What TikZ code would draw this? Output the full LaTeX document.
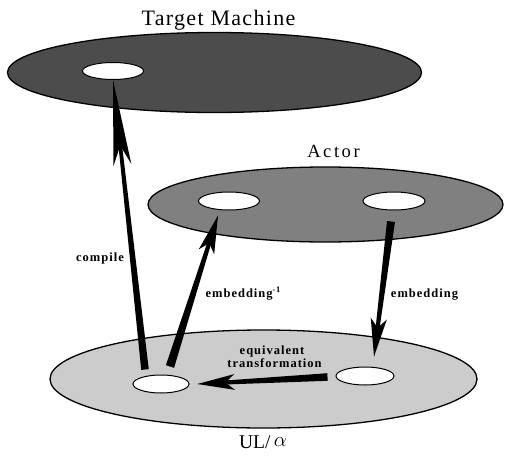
\documentclass[tikz,border=0pt]{standalone}
\usepackage{fontspec}
\setmainfont{Liberation Serif}
\newfontfamily\ttlA[LetterSpace=6]{Liberation Serif}
\newfontfamily\ttlB[LetterSpace=14]{Liberation Serif}
\newfontfamily\labf[LetterSpace=8]{Liberation Serif}
\usetikzlibrary{calc,shapes.geometric}
% tail, tip, tail half width, barb distance, barb angle, notch distance, head-end half width
\newcommand\wedgearrow[7]{%
  \path ($(#2)!#6!(#1)$) coordinate (wa-n);
  \fill ($(#1)!#3!90:(#2)$) -- ($(wa-n)!#7!90:(#2)$) -- (#2) -- ($(wa-n)!#7!-90:(#2)$) -- ($(#1)!#3!-90:(#2)$) -- cycle;
  \fill (#2) -- ($(#2)!#4!#5:(#1)$) -- (wa-n) -- ($(#2)!#4!-#5:(#1)$) -- cycle;
}
\begin{document}
\begin{tikzpicture}[x=1pt,y=-1pt,
  plane/.style={ellipse, draw, line width=1.3pt, inner sep=0pt},
  hole/.style={ellipse, draw, fill=white, line width=1pt, inner sep=0pt},
  title/.style={inner sep=0pt, anchor=base},
  lbl/.style={inner sep=0pt, anchor=base, font=\labf\bfseries\fontsize{12.5}{14}\selectfont}]
\useasboundingbox (0,0) rectangle (512,458);
\fill[white] (0,0) rectangle (512,458);
% planes
\node[plane, fill=black!70, minimum width=414pt, minimum height=80pt] (tm) at (214.5,72.5) {};
\node[plane, fill=black!50, minimum width=355pt, minimum height=75pt] (ac) at (325.5,204.5) {};
\node[plane, fill=black!20, minimum width=427pt, minimum height=98pt] (ul) at (263.5,379) {};
% holes
\node[hole, minimum width=61pt, minimum height=17pt] (tmh) at (113,71) {};
\node[hole, minimum width=61pt, minimum height=18pt] (ah1) at (229,201) {};
\node[hole, minimum width=62pt, minimum height=18pt] (ah2) at (394,201) {};
\node[hole, minimum width=56pt, minimum height=18pt] (uh1) at (161,384) {};
\node[hole, minimum width=58pt, minimum height=18pt] (uh2) at (365,376) {};
% titles
\node[title, font=\ttlA\fontsize{22}{24}\selectfont] (tmlab) at (218.5,25) {Target Machine};
\node[title, font=\ttlB\fontsize{18.5}{20}\selectfont] (aclab) at (333.5,157) {Actor};
\node[title, font=\fontsize{19.5}{21}\selectfont] (ullab) at (263,448) {UL/\,\raisebox{1.5pt}{$\alpha$}};
% arrow end points
\coordinate (cT) at ([xshift=-16pt,yshift=5pt]uh1.north);
\coordinate (cH) at (tmh.south);
\coordinate (eiT) at ([xshift=9pt,yshift=8pt]uh1.north);
\coordinate (eiH) at ([xshift=-11pt,yshift=-5pt]ah1.south);
\coordinate (eT) at ([xshift=-3pt,yshift=-11pt]ah2.south);
\coordinate (eH) at ([xshift=9pt,yshift=10pt]uh2.north);
\coordinate (qT) at ([xshift=-8pt,yshift=-1pt]uh2.west);
\coordinate (qH) at ([xshift=8pt]uh1.east);
% arrows
\wedgearrow{cT}{cH}{3.8pt}{86pt}{6}{66pt}{1.8pt}
\wedgearrow{eiT}{eiH}{4.3pt}{39pt}{12}{29pt}{2pt}
\wedgearrow{eT}{eH}{4pt}{39pt}{12}{29pt}{2pt}
\wedgearrow{qT}{qH}{3.8pt}{38pt}{12}{28pt}{2pt}
% labels
\node[lbl] (lcomp) at (100,261) {compile};
\node[lbl] (lemi) at (243,297) {embedding\raisebox{4.5pt}{\fontsize{8.5}{9}\selectfont -1}};
\node[lbl] (lem) at (424.5,297) {embedding};
\node[lbl] (leq1) at (272,354) {equivalent};
\node[lbl] (leq2) at (274.5,367) {transformation};
\end{tikzpicture}
\end{document}
